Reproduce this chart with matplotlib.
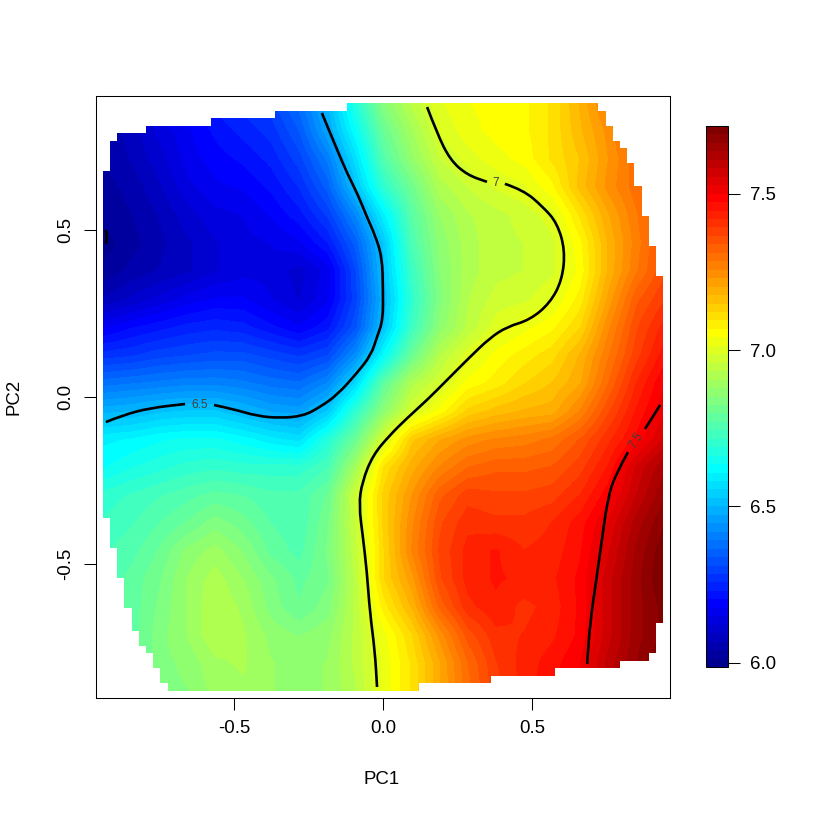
import numpy as np
import matplotlib
matplotlib.use('Agg')
import matplotlib.pyplot as plt
from matplotlib.colors import ListedColormap
from matplotlib.path import Path
from matplotlib.patches import PathPatch

plt.rcParams['font.family'] = ['Liberation Sans', 'DejaVu Sans']

# surface values, top row first
row_values = [
    [6.06, 6.10, 6.15, 6.20, 6.24, 6.27, 6.30, 6.38, 6.50, 6.68, 6.85, 6.94, 7.01, 7.04, 7.05, 7.06, 7.10, 7.18, 7.27, 7.36, 7.43],
    [6.05, 6.08, 6.13, 6.17, 6.21, 6.24, 6.27, 6.34, 6.47, 6.63, 6.80, 6.90, 6.99, 7.03, 7.05, 7.06, 7.10, 7.17, 7.24, 7.33, 7.40],
    [6.04, 6.07, 6.11, 6.16, 6.19, 6.21, 6.24, 6.30, 6.40, 6.57, 6.76, 6.87, 6.96, 7.00, 7.03, 7.05, 7.10, 7.15, 7.23, 7.30, 7.38],
    [6.03, 6.05, 6.09, 6.14, 6.17, 6.18, 6.21, 6.26, 6.35, 6.52, 6.70, 6.81, 6.92, 6.96, 6.99, 7.01, 7.06, 7.16, 7.24, 7.30, 7.36],
    [6.02, 6.04, 6.07, 6.11, 6.14, 6.15, 6.18, 6.22, 6.29, 6.42, 6.60, 6.77, 6.88, 6.93, 6.95, 6.97, 7.00, 7.10, 7.20, 7.28, 7.35],
    [6.00, 6.03, 6.06, 6.09, 6.12, 6.14, 6.15, 6.17, 6.23, 6.35, 6.53, 6.75, 6.86, 6.92, 6.95, 6.96, 6.98, 7.06, 7.18, 7.27, 7.35],
    [6.02, 6.05, 6.07, 6.09, 6.12, 6.14, 6.14, 6.11, 6.16, 6.31, 6.52, 6.72, 6.85, 6.92, 6.95, 6.96, 6.98, 7.05, 7.18, 7.28, 7.36],
    [6.07, 6.10, 6.13, 6.16, 6.18, 6.18, 6.15, 6.12, 6.17, 6.30, 6.50, 6.70, 6.84, 6.93, 6.97, 6.98, 7.01, 7.08, 7.21, 7.33, 7.39],
    [6.17, 6.20, 6.22, 6.24, 6.25, 6.24, 6.21, 6.18, 6.22, 6.33, 6.52, 6.72, 6.86, 6.94, 7.00, 7.03, 7.06, 7.12, 7.25, 7.36, 7.43],
    [6.27, 6.28, 6.30, 6.31, 6.32, 6.32, 6.30, 6.28, 6.31, 6.43, 6.62, 6.80, 6.93, 7.00, 7.05, 7.08, 7.11, 7.18, 7.28, 7.38, 7.46],
    [6.38, 6.39, 6.40, 6.41, 6.41, 6.40, 6.38, 6.37, 6.42, 6.56, 6.78, 6.92, 6.98, 7.05, 7.08, 7.12, 7.15, 7.20, 7.31, 7.42, 7.50],
    [6.49, 6.50, 6.52, 6.53, 6.53, 6.50, 6.47, 6.46, 6.53, 6.70, 6.86, 6.98, 7.05, 7.13, 7.16, 7.18, 7.19, 7.26, 7.36, 7.45, 7.52],
    [6.60, 6.61, 6.63, 6.64, 6.64, 6.62, 6.59, 6.57, 6.68, 6.80, 6.98, 7.14, 7.20, 7.24, 7.26, 7.27, 7.29, 7.34, 7.41, 7.48, 7.56],
    [6.63, 6.66, 6.68, 6.70, 6.71, 6.70, 6.70, 6.70, 6.74, 6.90, 7.10, 7.19, 7.26, 7.31, 7.33, 7.33, 7.34, 7.38, 7.45, 7.56, 7.63],
    [6.70, 6.72, 6.74, 6.76, 6.78, 6.77, 6.75, 6.75, 6.80, 6.97, 7.13, 7.23, 7.33, 7.38, 7.37, 7.37, 7.38, 7.42, 7.49, 7.58, 7.66],
    [6.72, 6.74, 6.77, 6.80, 6.84, 6.81, 6.77, 6.75, 6.82, 6.96, 7.13, 7.25, 7.36, 7.41, 7.40, 7.40, 7.42, 7.46, 7.53, 7.62, 7.69],
    [6.74, 6.76, 6.80, 6.86, 6.89, 6.85, 6.79, 6.76, 6.83, 6.95, 7.12, 7.26, 7.37, 7.43, 7.45, 7.42, 7.43, 7.47, 7.55, 7.64, 7.71],
    [6.75, 6.78, 6.82, 6.88, 6.92, 6.88, 6.83, 6.79, 6.82, 6.94, 7.12, 7.22, 7.36, 7.43, 7.45, 7.44, 7.44, 7.48, 7.57, 7.65, 7.72],
    [6.75, 6.78, 6.83, 6.88, 6.93, 6.90, 6.84, 6.80, 6.84, 6.94, 7.08, 7.18, 7.32, 7.41, 7.44, 7.41, 7.43, 7.48, 7.57, 7.65, 7.70],
    [6.75, 6.78, 6.84, 6.88, 6.93, 6.91, 6.87, 6.85, 6.87, 6.94, 7.03, 7.12, 7.24, 7.35, 7.41, 7.42, 7.44, 7.48, 7.57, 7.65, 7.70],
    [6.75, 6.78, 6.84, 6.86, 6.90, 6.91, 6.88, 6.87, 6.88, 6.94, 7.02, 7.10, 7.20, 7.31, 7.39, 7.43, 7.46, 7.50, 7.59, 7.66, 7.72],
    [6.75, 6.78, 6.84, 6.85, 6.89, 6.90, 6.88, 6.87, 6.88, 6.93, 7.02, 7.10, 7.20, 7.30, 7.38, 7.43, 7.47, 7.50, 7.59, 7.66, 7.72],
]

# outline of the surface: first and last+1 cell of each of the 78 rows
row_first = [34, 24, 15, 6, 2, 1, 1, 1, 1] + [0] * 46 + [1] * 4 + [2] * 4 + [3] * 4 + [4] * 3 + [5] * 2 + [6] + [7] * 2 + [8] * 2 + [9]
row_end = [69, 70, 70, 71, 71, 72, 73, 73, 74, 74, 74, 75, 75, 75, 75, 76, 76, 76, 76, 77, 77, 77, 77] + [78] * 46 + [77] * 4 + [76, 72, 63, 54, 44]

# contour lines, split where the label sits
line_65_x = [-.930, -.872, -.782, -.664]
line_65_y = [-.075, -.054, -.033, -.021]
line_65b_x = [-.567, -.503, -.423, -.346, -.268, -.211, -.154, -.087, -.040, -.020, 0.0, 0.0, -.003, -.027, -.054, -.084, -.121, -.154, -.205]
line_65b_y = [-.024, -.036, -.057, -.063, -.057, -.030, .006, .072, .126, .180, .231, .320, .419, .485, .539, .605, .671, .740, .850]
line_7a_x = [.148, .181, .225, .282, .349]
line_7a_y = [.868, .790, .710, .665, .644]
line_7b_x = [.409, .470, .537, .584, .611, .601, .560, .493, .416, .359, .292, .215, .148, .081, .023, -.034, -.070, -.081, -.067, -.054, -.044, -.027, -.020]
line_7b_y = [.638, .620, .569, .521, .440, .350, .281, .231, .210, .177, .120, .051, -.009, -.063, -.114, -.174, -.254, -.323, -.422, -.524, -.644, -.763, -.868]
line_75a_x = [.930, .879]
line_75a_y = [-.024, -.096]
line_75b_x = [.822, .779, .755, .738, .718, .695, .685]
line_75b_y = [-.165, -.234, -.302, -.404, -.533, -.674, -.799]
line_6_x = [-.930, -.926, -.930]
line_6_y = [.500, .479, .458]

value_ticks = [6.0, 6.5, 7.0, 7.5]
axis_ticks = [-0.5, 0.0, 0.5]
axis_labels = ['-0.5', '0.0', '0.5']

# tim.colors(64)
palette = ['#00008F', '#00009F', '#0000AF', '#0000BF', '#0000CF', '#0000DF', '#0000EF', '#0000FF',
           '#0010FF', '#0020FF', '#0030FF', '#0040FF', '#0050FF', '#0060FF', '#0070FF', '#0080FF',
           '#008FFF', '#009FFF', '#00AFFF', '#00BFFF', '#00CFFF', '#00DFFF', '#00EFFF', '#00FFFF',
           '#10FFEF', '#20FFDF', '#30FFCF', '#40FFBF', '#50FFAF', '#60FF9F', '#70FF8F', '#80FF80',
           '#8FFF70', '#9FFF60', '#AFFF50', '#BFFF40', '#CFFF30', '#DFFF20', '#EFFF10', '#FFFF00',
           '#FFEF00', '#FFDF00', '#FFCF00', '#FFBF00', '#FFAF00', '#FF9F00', '#FF8F00', '#FF8000',
           '#FF7000', '#FF6000', '#FF5000', '#FF4000', '#FF3000', '#FF2000', '#FF1000', '#FF0000',
           '#EF0000', '#DF0000', '#CF0000', '#BF0000', '#AF0000', '#9F0000', '#8F0000', '#800000']

W = 817.0
fig = plt.figure(figsize=(8.17, 8.17), dpi=100)
ax = fig.add_axes([96 / W, (W - 698) / W, 574 / W, 602 / W])
cax = fig.add_axes([706 / W, (W - 667) / W, 22 / W, 541 / W])

xmax, ymax = 0.94, 0.88
dx = 2 * xmax / 20
dy = 2 * ymax / 21
im = ax.imshow(np.array(row_values), origin='upper', aspect='auto', cmap=ListedColormap(palette),
               vmin=5.987, vmax=7.716, interpolation='bilinear', interpolation_stage='data',
               extent=[-xmax - dx / 2, xmax + dx / 2, -ymax - dy / 2, ymax + dy / 2])

# staircase outline from the row extents
cw = 2 * xmax / 78
ch = 2 * ymax / 78
left = []
right = []
for i in range(78):
    top = ymax - i * ch
    left += [(-xmax + row_first[i] * cw, top), (-xmax + row_first[i] * cw, top - ch)]
    right += [(-xmax + row_end[i] * cw, top), (-xmax + row_end[i] * cw, top - ch)]
outline = Path(right + left[::-1] + [right[0]])
patch = PathPatch(outline, transform=ax.transData, facecolor='none', edgecolor='none')
ax.add_patch(patch)
im.set_clip_path(patch)


def smooth_line(xs, ys):
    # quadratic curve with the read points as control points, so no corners show
    pts = list(zip(xs, ys))
    verts = [pts[0]]
    codes = [Path.MOVETO]
    for p, q in zip(pts[1:-1], pts[2:]):
        verts += [p, ((p[0] + q[0]) / 2, (p[1] + q[1]) / 2)]
        codes += [Path.CURVE3, Path.CURVE3]
    verts.append(pts[-1])
    codes.append(Path.LINETO)
    return Path(verts, codes)


for xs, ys in [(line_65_x, line_65_y), (line_65b_x, line_65b_y), (line_7a_x, line_7a_y),
               (line_7b_x, line_7b_y), (line_75a_x, line_75a_y), (line_75b_x, line_75b_y),
               (line_6_x, line_6_y)]:
    ax.add_patch(PathPatch(smooth_line(xs, ys), facecolor='none', edgecolor='black', lw=1.9, capstyle='butt'))

ax.text(-.614, -.024, '6.5', fontsize=8.6, color='#404040', ha='center', va='center')
ax.text(.379, .641, '7', fontsize=8.6, color='#404040', ha='center', va='center')
ax.text(.849, -.129, '7.5', fontsize=8.6, color='#404040', ha='center', va='center', rotation=58)

ax.set_xlim(-0.963, 0.963)
ax.set_ylim(-0.901, 0.901)
ax.set_xticks(axis_ticks)
ax.set_xticklabels(axis_labels)
ax.set_yticks(axis_ticks)
ax.set_yticklabels(axis_labels, rotation=90, va='center')
ax.tick_params(length=8.5, width=0.75, labelsize=13.4, color='black', pad=7)
for s in ax.spines.values():
    s.set_linewidth(0.75)

cb = fig.colorbar(im, cax=cax, ticks=value_ticks)
cb.ax.tick_params(length=8.5, width=0.75, labelsize=13.4, pad=7)
cb.ax.set_yticklabels(['6.0', '6.5', '7.0', '7.5'])
cb.outline.set_linewidth(0.75)

fig.text(382 / W, 1 - 779 / W, 'PC1', fontsize=13.4, ha='center', va='center')
fig.text(14 / W, 1 - 397 / W, 'PC2', fontsize=13.4, ha='center', va='center', rotation=90)

fig.savefig('out.png', dpi=100)
